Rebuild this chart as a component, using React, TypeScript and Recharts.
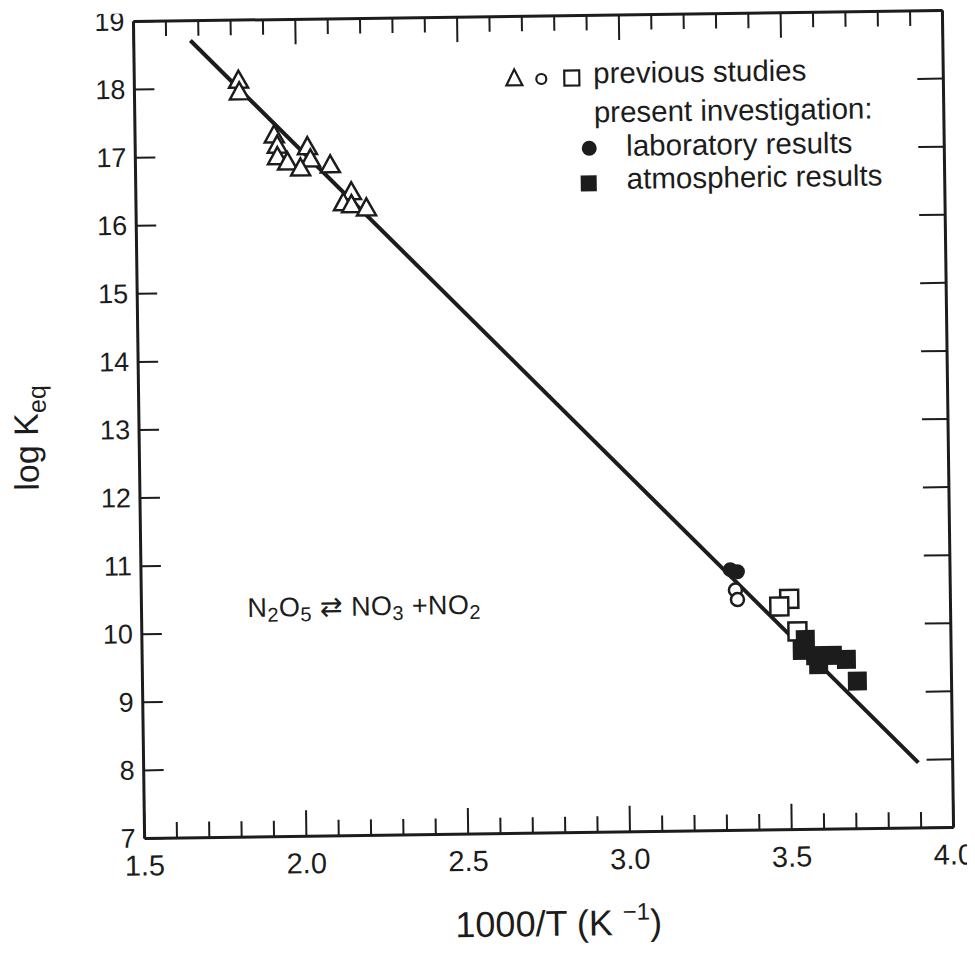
import React from "react";
import { ScatterChart, Scatter, XAxis, YAxis } from "recharts";

// 1000/T and log Keq
const triX = [1.822, 1.824, 1.930, 1.939, 1.939, 1.970, 2.032, 2.041, 2.010, 2.102, 2.166, 2.141, 2.166, 2.212];
const triY = [18.11, 17.94, 17.30, 17.15, 16.98, 16.90, 17.12, 16.94, 16.81, 16.85, 16.45, 16.29, 16.26, 16.21];

const openCircX = [3.336, 3.342];
const openCircY = [10.53, 10.39];

const openSqX = [3.502, 3.471, 3.526];
const openSqY = [10.39, 10.28, 9.91];

const labCircX = [3.321, 3.343];
const labCircY = [10.83, 10.80];

const atmSqX = [3.550, 3.540, 3.581, 3.590, 3.633, 3.676, 3.709];
const atmSqY = [9.79, 9.63, 9.55, 9.42, 9.55, 9.49, 9.17];

const fitX = [1.675, 3.894];
const fitY = [18.71, 7.96];

const xTicks = [1.5, 1.6, 1.7, 1.8, 1.9, 2.0, 2.1, 2.2, 2.3, 2.4, 2.5, 2.6, 2.7, 2.8, 2.9, 3.0, 3.1, 3.2, 3.3, 3.4, 3.5, 3.6, 3.7, 3.8, 3.9, 4.0];
const yTicks = [7, 8, 9, 10, 11, 12, 13, 14, 15, 16, 17, 18, 19];

const zip = (xs: number[], ys: number[]) => xs.map((x, i) => ({ x, y: ys[i] }));

const INK = "#1c1c1c";
const FONT = "'Liberation Sans', Arial, Helvetica, sans-serif";

const isMajor = (v: number) => Math.abs(v * 2 - Math.round(v * 2)) < 1e-6;

function BottomTick({ x, y, payload }: any) {
  const v = payload.value as number;
  const major = isMajor(v);
  return (
    <g>
      <line x1={x} x2={x} y1={y} y2={y - (major ? 26 : 16)} stroke={INK} strokeWidth={2} />
      {major && (
        <text x={x} y={y + 37} textAnchor="middle" fontSize={29} fontFamily={FONT} fill={INK}>
          {v.toFixed(1)}
        </text>
      )}
    </g>
  );
}

function TopTick({ x, y, payload }: any) {
  const major = isMajor(payload.value);
  return <line x1={x} x2={x} y1={y} y2={y + (major ? 25 : 15)} stroke={INK} strokeWidth={2} />;
}

function LeftTick({ x, y, payload }: any) {
  return (
    <g>
      <line x1={x} x2={x + 20} y1={y} y2={y} stroke={INK} strokeWidth={2} />
      <text x={x - 9} y={y + 9} textAnchor="end" fontSize={27} fontFamily={FONT} fill={INK}>
        {payload.value}
      </text>
    </g>
  );
}

function RightTick({ x, y }: any) {
  return <line x1={x} x2={x - 26} y1={y} y2={y} stroke={INK} strokeWidth={2} />;
}

const Triangle = ({ cx, cy }: any) => (
  <polygon
    points={`${cx},${cy - 10} ${cx - 9.5},${cy + 7} ${cx + 9.5},${cy + 7}`}
    fill="#fff"
    stroke={INK}
    strokeWidth={2.5}
  />
);
const OpenCircle = ({ cx, cy }: any) => <circle cx={cx} cy={cy} r={6.5} fill="#fff" stroke={INK} strokeWidth={2.5} />;
const FilledCircle = ({ cx, cy }: any) => <circle cx={cx} cy={cy} r={7.5} fill={INK} />;
const OpenSquare = ({ cx, cy }: any) => (
  <rect x={cx - 9} y={cy - 9} width={18} height={18} fill="#fff" stroke={INK} strokeWidth={2.5} />
);
const FilledSquare = ({ cx, cy }: any) => <rect x={cx - 9.5} y={cy - 9.5} width={19} height={19} fill={INK} />;
const NoDot = () => <g />;

export default function App() {
  // the scanned figure sits slightly tilted; rotate about the plot centre
  return (
    <div
      style={{
        position: "relative",
        width: 967,
        height: 949,
        background: "#fff",
        transform: "rotate(-0.78deg)",
        transformOrigin: "535px 416px",
      }}
    >
      <ScatterChart width={967} height={949} margin={{ top: 7, right: 26, bottom: 64, left: 51 }}>
        <XAxis
          xAxisId="b"
          type="number"
          dataKey="x"
          domain={[1.5, 4.0]}
          ticks={xTicks}
          interval={0}
          allowDataOverflow
          height={60}
          tickSize={0}
          tickMargin={0}
          tickLine={false}
          axisLine={{ stroke: INK, strokeWidth: 3 }}
          tick={<BottomTick />}
        />
        <XAxis
          xAxisId="t"
          orientation="top"
          type="number"
          dataKey="x"
          domain={[1.5, 4.0]}
          ticks={xTicks}
          interval={0}
          allowDataOverflow
          height={1}
          tickSize={0}
          tickMargin={0}
          tickLine={false}
          axisLine={{ stroke: INK, strokeWidth: 3 }}
          tick={<TopTick />}
        />
        <YAxis
          yAxisId="l"
          type="number"
          dataKey="y"
          domain={[7, 19]}
          ticks={yTicks}
          interval={0}
          allowDataOverflow
          width={80}
          tickSize={0}
          tickMargin={0}
          tickLine={false}
          axisLine={{ stroke: INK, strokeWidth: 3 }}
          tick={<LeftTick />}
        />
        <YAxis
          yAxisId="r"
          orientation="right"
          type="number"
          dataKey="y"
          domain={[7, 19]}
          ticks={yTicks}
          interval={0}
          allowDataOverflow
          width={1}
          tickSize={0}
          tickMargin={0}
          tickLine={false}
          axisLine={{ stroke: INK, strokeWidth: 3 }}
          tick={<RightTick />}
        />
        <Scatter
          xAxisId="b"
          yAxisId="l"
          data={zip(fitX, fitY)}
          line={{ stroke: INK, strokeWidth: 4 }}
          shape={<NoDot />}
          isAnimationActive={false}
        />
        <Scatter xAxisId="b" yAxisId="l" data={zip(triX, triY)} shape={<Triangle />} isAnimationActive={false} />
        <Scatter xAxisId="b" yAxisId="l" data={zip(openCircX, openCircY)} shape={<OpenCircle />} isAnimationActive={false} />
        <Scatter xAxisId="b" yAxisId="l" data={zip(openSqX, openSqY)} shape={<OpenSquare />} isAnimationActive={false} />
        <Scatter xAxisId="b" yAxisId="l" data={zip(labCircX, labCircY)} shape={<FilledCircle />} isAnimationActive={false} />
        <Scatter xAxisId="b" yAxisId="l" data={zip(atmSqX, atmSqY)} shape={<FilledSquare />} isAnimationActive={false} />
      </ScatterChart>

      {/* annotations, in (unrotated) page coordinates */}
      <svg
        width={975}
        height={957}
        style={{ position: "absolute", left: -8, top: -8, pointerEvents: "none" }}
        fontFamily={FONT}
        fill={INK}
      >
        <polygon points="519,69 511,85 527,85" fill="none" stroke={INK} strokeWidth={2.2} />
        <circle cx={546} cy={79} r={5} fill="none" stroke={INK} strokeWidth={2.2} />
        <rect x={569} y={71} width={15} height={15} fill="none" stroke={INK} strokeWidth={2.2} />
        <text x={598} y={84} fontSize={29.5}>previous studies</text>
        <text x={598} y={123} fontSize={29.5}>present investigation:</text>
        <circle cx={593} cy={149} r={7.5} fill={INK} />
        <text x={630} y={157} fontSize={29.5}>laboratory results</text>
        <rect x={584} y={176} width={16} height={16} fill={INK} />
        <text x={630} y={190} fontSize={29.5}>atmospheric results</text>

        <text x={245} y={613} fontSize={27} letterSpacing={0.4}>
          N<tspan fontSize={20} dy={5}>2</tspan>
          <tspan dy={-5}>O</tspan>
          <tspan fontSize={20} dy={5}>5</tspan>
          <tspan dy={-5}> ⇄ NO</tspan>
          <tspan fontSize={20} dy={5}>3</tspan>
          <tspan dy={-5}> +NO</tspan>
          <tspan fontSize={20} dy={5}>2</tspan>
        </text>

        <text x={552} y={936} fontSize={36} textAnchor="middle">
          1000/T  (K <tspan fontSize={24} dy={-15}>−1</tspan>
          <tspan dy={15}>)</tspan>
        </text>
        <text transform="translate(38,431) rotate(-90)" fontSize={34} textAnchor="middle">
          log K<tspan fontSize={25} dy={8}>eq</tspan>
        </text>
      </svg>
    </div>
  );
}
